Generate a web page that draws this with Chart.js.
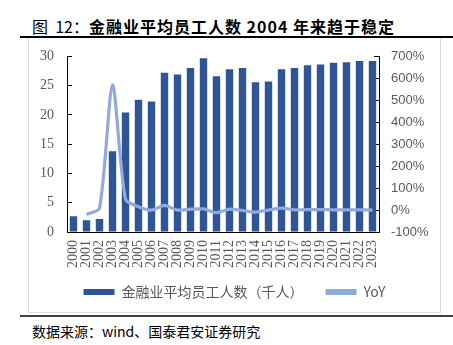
<!DOCTYPE html>
<html>
<head>
<meta charset="utf-8">
<script src="https://cdn.jsdelivr.net/npm/chart.js@4"></script>
<style>
  body { margin: 0; background: #fff; width: 453px; height: 345px; position: relative; overflow: hidden; }
  #title { position: absolute; left: 32px; top: 14px; font-family: "Noto Sans CJK SC"; font-size: 16px; color: #000; white-space: nowrap; }
  #title b { letter-spacing: 1px; }
  #rule-top { position: absolute; left: 20px; right: 0; top: 36px; height: 2px; background: #000; }
  #box { position: absolute; left: 28px; top: 38px; width: 411px; height: 274px; border-left: 1px solid #d9d9d9; border-right: 1px solid #d9d9d9; border-bottom: 1px solid #d9d9d9; }
  #chart { position: absolute; left: 29px; top: 30px; }
  #rule-bottom { position: absolute; left: 20px; right: 0; top: 315px; height: 2px; background: #404040; }
  #source { position: absolute; left: 32px; top: 321px; font-family: "Noto Sans CJK SC"; font-size: 14px; color: #000; white-space: nowrap; }
</style>
</head>
<body>
<div id="title">图&nbsp;&nbsp;12：<b>金融业平均员工人数 2004 年来趋于稳定</b></div>
<div id="rule-top"></div>
<div id="box"></div>
<canvas id="chart" width="411" height="282"></canvas>
<div id="rule-bottom"></div>
<div id="source">数据来源：wind、国泰君安证券研究</div>

<script>
// yearly figures
const years = ['2000','2001','2002','2003','2004','2005','2006','2007','2008','2009','2010','2011',
               '2012','2013','2014','2015','2016','2017','2018','2019','2020','2021','2022','2023'];
const staff = [2.7, 2.0, 2.2, 13.8, 20.4, 22.6, 22.3, 27.2, 26.9, 28.0, 29.7, 26.6,
               27.8, 28.0, 25.6, 25.7, 27.8, 28.0, 28.5, 28.6, 28.9, 29.0, 29.2, 29.2];
const yoy = [null, -20, 8, 570, 50, 15, 0, 21, 0, 4, 5, -12,
             4, -2, -9, 0, 9, 1, 2, 2, 1, 1, 1, 0];

const staffLabel = '金融业平均员工人数（千人）';
const yoyLabel = 'YoY';

const barColor = '#2F5597';
const lineColor = '#8FAADC';
const tickColor = '#595959';

const ctx = document.getElementById('chart');

new Chart(ctx, {
  data: {
    labels: years,
    datasets: [
      {
        type: 'line',
        label: yoyLabel,
        data: yoy,
        yAxisID: 'y1',
        borderColor: lineColor,
        backgroundColor: lineColor,
        borderWidth: 3.2,
        pointRadius: 0,
        tension: 0.25,
        order: 1
      },
      {
        type: 'bar',
        label: staffLabel,
        data: staff,
        yAxisID: 'y',
        backgroundColor: barColor,
        categoryPercentage: 1,
        barPercentage: 0.57,
        order: 2
      }
    ]
  },
  options: {
    responsive: false,
    animation: false,
    layout: { padding: { top: 0, left: 0, right: 0, bottom: 3 } },
    plugins: {
      tooltip: { enabled: false },
      legend: {
        position: 'bottom',
        reverse: true,
        labels: {
          boxWidth: 31,
          boxHeight: 6,
          padding: 15,
          color: tickColor,
          font: { family: '"Noto Sans CJK SC"', size: 14 },
          generateLabels(chart) {
            // flat swatches, no outline; a wider gap after the first entry
            const items = Chart.defaults.plugins.legend.labels.generateLabels(chart);
            items.forEach(it => {
              it.lineWidth = 0;
              if (it.text === staffLabel) it.text = staffLabel + '\u3000';
            });
            return items;
          }
        }
      }
    },
    scales: {
      x: {
        grid: { display: false, drawTicks: false },
        border: { display: true, color: '#000', width: 1 },
        ticks: {
          color: tickColor,
          font: { family: '"Liberation Serif"', size: 14 },
          minRotation: 90,
          maxRotation: 90,
          padding: 8,
          autoSkip: false
        },
        afterFit(scale) { scale.height = 38; }
      },
      y: {
        position: 'left',
        min: 0,
        max: 30,
        ticks: {
          stepSize: 5,
          color: tickColor,
          font: { family: '"Liberation Serif"', size: 14 },
          padding: 18
        },
        grid: { drawOnChartArea: false, tickLength: -5, color: '#000' },
        border: { display: true, color: '#000', width: 1 },
        afterFit(scale) { scale.width = 38; }
      },
      y1: {
        position: 'right',
        min: -100,
        max: 700,
        ticks: {
          stepSize: 100,
          color: tickColor,
          font: { family: '"Liberation Sans"', size: 13 },
          padding: 17,
          callback: v => v + '%'
        },
        grid: { drawOnChartArea: false, tickLength: -5, color: '#000' },
        border: { display: true, color: '#000', width: 1 },
        afterFit(scale) { scale.width = 61; }
      }
    }
  }
});
</script>
</body>
</html>
